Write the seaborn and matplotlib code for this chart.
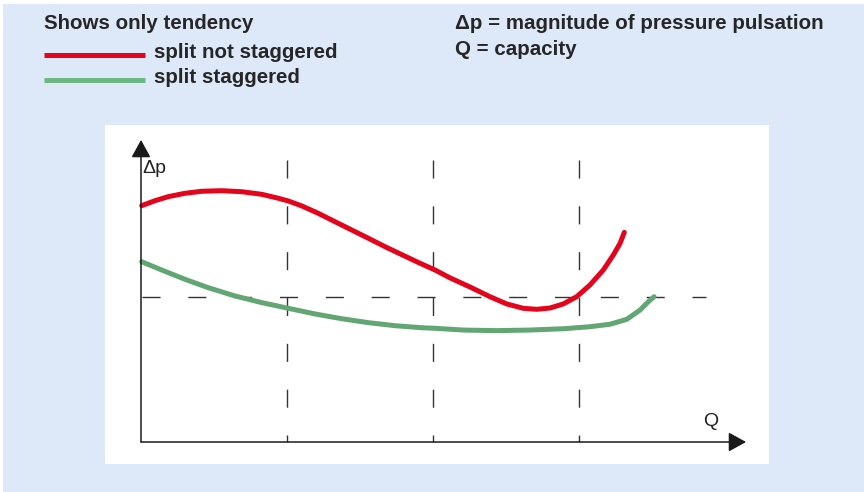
import matplotlib
matplotlib.use("Agg")
import matplotlib.pyplot as plt
import seaborn as sns
import pandas as pd
from matplotlib.lines import Line2D
from matplotlib.patches import Rectangle

# Curves (Q in grid units, dp relative to the dashed level)
q_not_staggered = [0.005, 0.096, 0.187, 0.301, 0.416, 0.553, 0.690, 0.827, 0.940, 1.009,
                   1.101, 1.214, 1.329, 1.443, 1.557, 1.671, 1.786, 1.899, 2.014, 2.116,
                   2.253, 2.390, 2.505, 2.618, 2.710, 2.801, 2.892, 2.984, 3.075, 3.166,
                   3.235, 3.281, 3.310]
dp_not_staggered = [1.630, 1.664, 1.692, 1.715, 1.729, 1.733, 1.726, 1.708, 1.681, 1.662,
                    1.628, 1.577, 1.519, 1.462, 1.405, 1.347, 1.292, 1.238, 1.186, 1.132,
                    1.069, 1.002, 0.952, 0.922, 0.915, 0.924, 0.952, 1.002, 1.083, 1.186,
                    1.290, 1.370, 1.446]

q_staggered = [0.005, 0.142, 0.301, 0.461, 0.644, 0.827, 1.009, 1.192, 1.375, 1.557,
               1.740, 1.923, 2.014, 2.208, 2.436, 2.664, 2.892, 3.075, 3.212, 3.327,
               3.418, 3.475, 3.514]
dp_staggered = [1.243, 1.186, 1.122, 1.064, 1.007, 0.961, 0.922, 0.883, 0.850, 0.823,
                0.802, 0.788, 0.784, 0.772, 0.768, 0.772, 0.781, 0.795, 0.812, 0.846,
                0.910, 0.968, 1.002]

grid_q = [1, 2, 3]
ref_level = 1.0

title = "Shows only tendency"
labels = ["split not staggered", "split staggered"]
notes = ["\u0394p = magnitude of pressure pulsation", "Q = capacity"]

red = "#e3051b"
green = "#62a673"
green_legend = "#6cb883"
bg = "#dde9f8"

sns.set_style("white")
plt.rcParams["font.family"] = ["Liberation Sans", "DejaVu Sans"]

W, H = 864, 492
fig = plt.figure(figsize=(W / 100, H / 100), dpi=100)
fig.patch.set_facecolor("white")


def fx(px):
    return px / W


def fy(py):
    return 1 - py / H


fig.patches.append(Rectangle((fx(3), 0), 1 - fx(3), fy(4), transform=fig.transFigure,
                             facecolor=bg, edgecolor="none", zorder=-5))

ax = fig.add_axes([fx(105), fy(464), (769 - 105) / W, (464 - 125) / H])
ax.set_facecolor("white")
for s in ax.spines.values():
    s.set_visible(False)
ax.set_xlim(-0.2466, 4.301)
ax.set_ylim(-0.1517, 2.186)

# dashed guide lines
for q in grid_q:
    ax.plot([q, q], [1.945, 0], color="#333333", lw=1, dashes=(13, 20))
ax.plot([0.01, 3.87], [ref_level, ref_level], color="#333333", lw=1, dashes=(13, 20))

# axes with arrow heads
arrow = dict(arrowstyle="-|>,head_length=0.4,head_width=0.22", mutation_scale=27,
             color="#1a1a1a", lw=1.1, shrinkA=0, shrinkB=0)
ax.annotate("", xy=(0, 2.083), xytext=(0, 0), arrowprops=arrow)
ax.annotate("", xy=(4.144, 0), xytext=(0, 0), arrowprops=arrow)

df_red = pd.DataFrame({"Q": q_not_staggered, "dp": dp_not_staggered})
df_green = pd.DataFrame({"Q": q_staggered, "dp": dp_staggered})
sns.lineplot(data=df_red, x="Q", y="dp", color=red, lw=3.6, ax=ax,
             solid_capstyle="round", solid_joinstyle="round")
sns.lineplot(data=df_green, x="Q", y="dp", color=green, lw=3.6, ax=ax,
             solid_capstyle="round", solid_joinstyle="round")

ax.set_xticks([])
ax.set_yticks([])
ax.set_xlabel("")
ax.set_ylabel("")

ax.text(0.01, 1.885, "\u0394p", fontsize=14, color="#222222", ha="left", va="center")
ax.text(3.9, 0.14, "Q", fontsize=14, color="#222222", ha="center", va="center")

# header texts and legend
fs = 14.8
fw = "bold"
fig.text(fx(44), fy(29), title, fontsize=fs, fontweight=fw, ha="left", va="baseline")
fig.add_artist(Line2D([fx(44), fx(145)], [fy(55), fy(55)], color=red, lw=3.6,
                      solid_capstyle="butt"))
fig.add_artist(Line2D([fx(44), fx(145)], [fy(80), fy(80)], color=green_legend, lw=3.6,
                      solid_capstyle="butt"))
fig.text(fx(154), fy(58), labels[0], fontsize=fs, fontweight=fw, ha="left", va="baseline")
fig.text(fx(154), fy(83), labels[1], fontsize=fs, fontweight=fw, ha="left", va="baseline")
fig.text(fx(455), fy(29), notes[0], fontsize=fs, fontweight=fw, ha="left", va="baseline")
fig.text(fx(455), fy(55), notes[1], fontsize=fs, fontweight=fw, ha="left", va="baseline")

fig.savefig("out.png", dpi=100)
